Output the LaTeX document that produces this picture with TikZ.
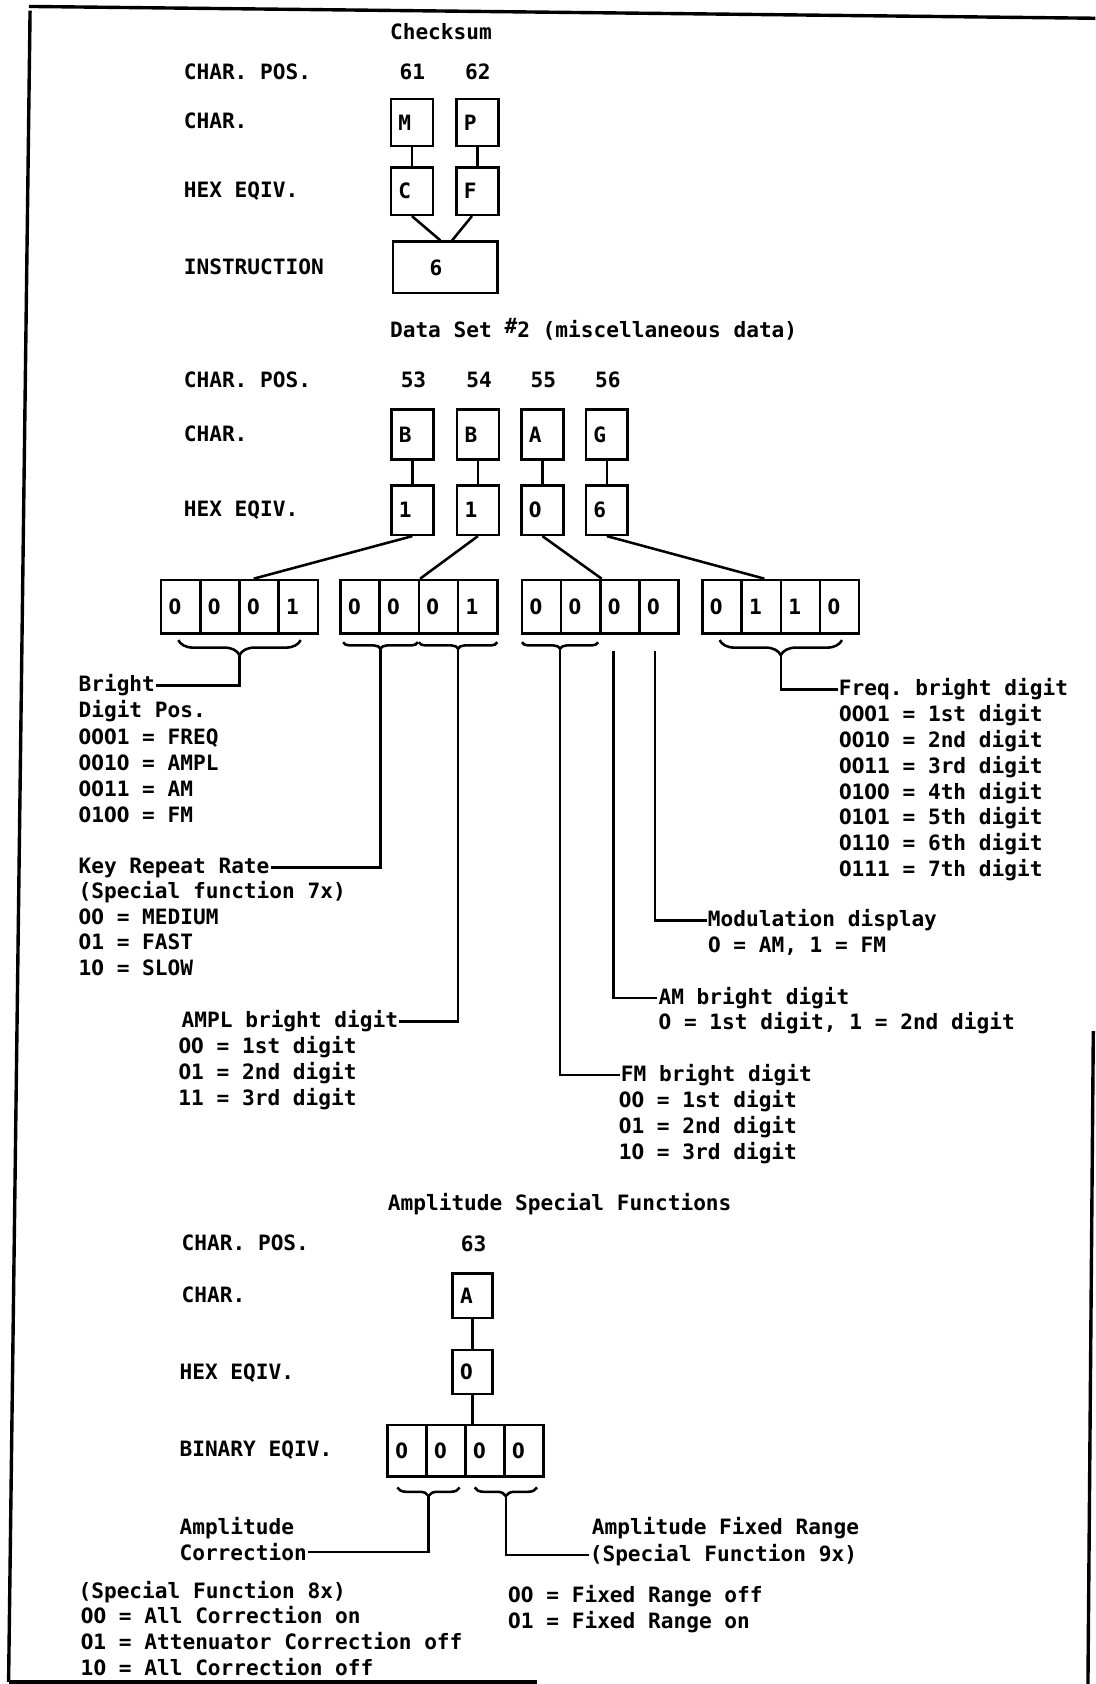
\documentclass[tikz,border=0pt]{standalone}
\usepackage{fontspec}
\usepackage{graphicx}
\setmonofont{DejaVu Sans Mono}
\newfontfamily\zfont{DejaVu Sans}
% plain zero (the mono face has a dotted one)
\newcommand{\zr}{\makebox[0.602em]{\zfont\bfseries\scalebox{0.86}[1]{0}}}
\usepackage{tikz}
\usetikzlibrary{positioning,calc,decorations.pathreplacing}

\begin{document}
\begin{tikzpicture}[
  x=0.02cm, y=-0.02cm, line width=1.35pt,
  font=\ttfamily\bfseries\fontsize{11.2pt}{13.8pt}\selectfont,
  lbl/.style={anchor=base west, inner sep=0pt},
  num/.style={anchor=base, inner sep=0pt},
  cbox/.style={draw, text width=0.5cm, align=left, inner xsep=0.14cm, minimum height=0.9cm},
  bit/.style={draw, text width=0.45cm, align=left, inner xsep=0.14cm, minimum height=1cm},
  brc/.style={decorate, decoration={brace, mirror, amplitude=#1}},
  brc/.default=0.12cm,
  frm/.style={line width=1.8pt}
]
  \useasboundingbox (0,0) rectangle (1020,1568);

  % page frame (scan is slightly rotated)
  \draw[frm] (27,6) -- (1020,17);
  \draw[frm] (28,10) -- (8,1566);
  \draw[frm] (8,1566) -- (500,1566);
  \draw[frm] (1018,960) -- (1013,1568);

  % checksum
  \node[lbl] (cktitle) at (362,37) {Checksum};
  \node[lbl] (ckpos)   at (170,74) {CHAR. POS.};
  \node[num] (n61)     at (384,74) {61};
  \node[num] (n62)     at (445,74) {62};
  \node[lbl] (ckchar)  at (170,120) {CHAR.};
  \node[lbl] (ckhex)   at (170,184) {HEX EQIV.};
  \node[lbl] (ckins)   at (170,256) {INSTRUCTION};
  \node[cbox, minimum height=0.88cm] (cM) at (383.5,114) {M};
  \node[cbox, minimum height=0.88cm] (cP) at (444.5,114) {P};
  \node[cbox, minimum height=0.88cm] (hC) at (383.5,178) {C};
  \node[cbox, minimum height=0.88cm] (hF) at (444.5,178) {F};
  \node[draw, text width=0.58cm, align=left, inner xsep=0.68cm, minimum height=0.96cm] (ins) at (414.5,249) {6};
  \draw (cM.south) -- (hC.north);
  \draw (cP.south) -- (hF.north);
  \draw (hC.south) -- ($(ins.north)+(-4.5,0)$);
  \draw ($(hF.south)+(-5,0)$) -- ($(ins.north)+(6.5,0)$);

  % data set 2
  \node[lbl] (dstitle) at (362,314) {Data Set \raisebox{2pt}{\#}2 (miscellaneous data)};
  \node[lbl] (dspos)   at (170,361) {CHAR. POS.};
  \node[lbl] (dschar)  at (170,411) {CHAR.};
  \node[lbl] (dshex)   at (170,481) {HEX EQIV.};
  \foreach \n/\x in {53/385,54/446,55/506,56/566}
    \node[num] (p\n) at (\x,361) {\n};
  \foreach \c/\h/\x [count=\i] in {B/1/384,B/1/445,A/\zr/505,G/6/565} {
    \node[cbox, minimum height=0.93cm] (ch\i) at (\x,404.5) {\c};
    \node[cbox, minimum height=0.92cm] (hx\i) at (\x,475) {\h};
    \draw (ch\i.south) -- (hx\i.north);
  }
  \foreach \g/\x/\bits in {1/150/{\zr,\zr,\zr,1},2/317/{\zr,\zr,\zr,1},3/486/{\zr,\zr,\zr,\zr},4/654/{\zr,1,1,\zr}}
    \foreach \b [count=\j] in \bits
      \node[bit] (g\g-\j) at (\x+36.5*\j-18.25,565) {\b};
  \draw (hx1.south) -- ($(g1-3.north)+(-5,0)$);
  \draw (hx2.south) -- (g2-2.north east);
  \draw (hx3.south) -- (g3-2.north east);
  \draw (hx4.south) -- ($(g4-2.north)+(3,0)$);

  \draw[brc=0.28cm] (166,596) -- (280,596);
  \draw[brc] (319.5,598) -- (389,598);
  \draw[brc] (390,598) -- (463,598);
  \draw[brc] (486,598) -- (557,598);
  \draw[brc=0.28cm] (670,596) -- (784,596);
  \coordinate (tb1) at (223,610);
  \coordinate (tb2) at (354.25,604);
  \coordinate (tb3) at (426.5,604);
  \coordinate (tb4) at (521.5,604);
  \coordinate (tam) at (571,606);
  \coordinate (tmod) at (610,606);
  \coordinate (tb5) at (727,610);

  % bright digit position
  \node[lbl] (bright) at (72,644) {Bright};
  \foreach \t [count=\i] in {Digit Pos.,\zr\zr\zr1 = FREQ,\zr\zr1\zr{} = AMPL,\zr\zr11 = AM,\zr1\zr\zr{} = FM}
    \node[lbl] (bright\i) at (72,644+24.4*\i) {\t};
  % key repeat rate
  \node[lbl] (keyrate) at (72,813) {Key Repeat Rate};
  \foreach \t [count=\i] in {{(Special function 7x)},\zr\zr{} = MEDIUM,\zr1 = FAST,1\zr{} = SLOW}
    \node[lbl] (keyrate\i) at (72,813+23.8*\i) {\t};
  % ampl bright digit
  \node[lbl] (amplbd) at (168,957) {AMPL bright digit};
  \foreach \t [count=\i] in {\zr\zr{} = 1st digit,\zr1 = 2nd digit,11 = 3rd digit}
    \node[lbl] (amplbd\i) at (165,957+24.2*\i) {\t};
  % fm bright digit
  \node[lbl] (fmbd) at (577,1007) {FM bright digit};
  \foreach \t [count=\i] in {\zr\zr{} = 1st digit,\zr1 = 2nd digit,1\zr{} = 3rd digit}
    \node[lbl] (fmbd\i) at (575,1007+24.3*\i) {\t};
  % am bright digit
  \node[lbl] (ambd)  at (612,935) {AM bright digit};
  \node[lbl] (ambd1) at (612,959) {\zr{} = 1st digit, 1 = 2nd digit};
  % modulation display
  \node[lbl] (modd)  at (658,863) {Modulation display};
  \node[lbl] (modd1) at (658,887) {\zr{} = AM, 1 = FM};
  % freq bright digit
  \node[lbl] (freqbd) at (780,648) {Freq. bright digit};
  \foreach \t [count=\i] in {\zr\zr\zr1 = 1st digit,\zr\zr1\zr{} = 2nd digit,\zr\zr11 = 3rd digit,\zr1\zr\zr{} = 4th digit,\zr1\zr1 = 5th digit,\zr11\zr{} = 6th digit,\zr111 = 7th digit}
    \node[lbl] (freqbd\i) at (780,648+24*\i) {\t};

  \draw (tb1) |- (bright.east);
  \draw (tb2) |- (keyrate.east);
  \draw (tb3) |- (amplbd.east);
  \draw (tb4) |- (fmbd.west);
  \draw (tam) |- (ambd.west);
  \draw (tmod) |- (modd.west);
  \draw (tb5) |- (freqbd.west);

  % amplitude special functions
  \node[lbl] (amptitle) at (360,1127) {Amplitude Special Functions};
  \node[lbl] (apos)  at (168,1164) {CHAR. POS.};
  \node[num] (n63)   at (441,1165) {63};
  \node[lbl] (achar) at (168,1213) {CHAR.};
  \node[lbl] (ahex)  at (166,1284) {HEX EQIV.};
  \node[lbl] (abin)  at (166,1356) {BINARY EQIV.};
  \node[cbox, text width=0.46cm, minimum height=0.82cm] (aA) at (440,1206.5) {A};
  \node[cbox, text width=0.46cm, minimum height=0.82cm] (a0) at (440,1277.5) {\zr};
  \foreach \b [count=\j] in {\zr,\zr,\zr,\zr}
    \node[bit, text width=0.445cm, minimum height=0.96cm] (ab\j) at (361+36.25*\j-18.125,1351) {\b};
  \draw (aA.south) -- (a0.north);
  \draw (a0.south) -- (a0.south |- ab3.north);

  \draw[brc=0.16cm] (370,1385) -- (428,1385);
  \draw[brc=0.16cm] (442,1385) -- (500,1385);
  \coordinate (tc1) at (399,1393);
  \coordinate (tc2) at (471,1393);

  \node[lbl] (ampc)  at (166,1429) {Amplitude};
  \node[lbl] (corr)  at (166,1453) {Correction};
  \node[lbl] (afr)   at (550,1429) {Amplitude Fixed Range};
  \node[lbl] (sf9)   at (548,1454) {(Special Function 9x)};
  \draw (tc1) |- (corr.east);
  \draw (tc2) |- (sf9.west);

  \node[lbl] (sf8) at (72,1488) {(Special Function 8x)};
  \foreach \t [count=\i] in {\zr\zr{} = All Correction on,\zr1 = Attenuator Correction off,1\zr{} = All Correction off}
    \node[lbl] (sf8\i) at (74,1488+24*\i) {\t};
  \node[lbl] (fr1) at (472,1492) {\zr\zr{} = Fixed Range off};
  \node[lbl] (fr2) at (472,1516) {\zr1 = Fixed Range on};
\end{tikzpicture}
\end{document}
